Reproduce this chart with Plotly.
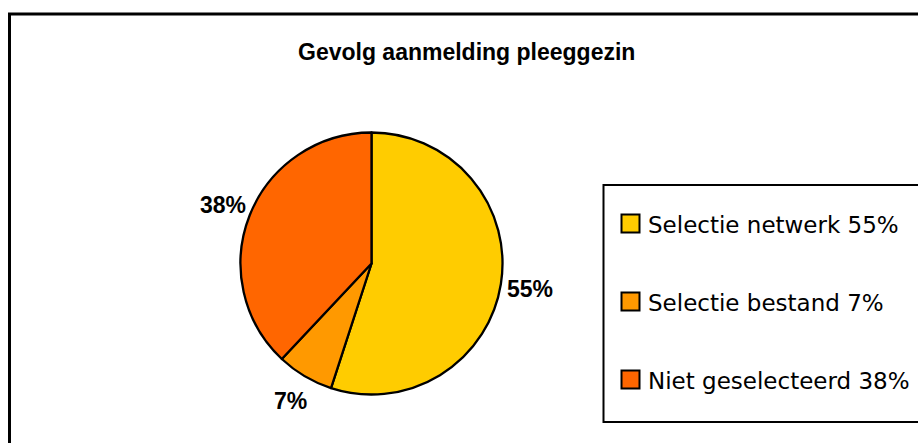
import math
import plotly.graph_objects as go

W, H = 918, 443

title = "Gevolg aanmelding pleeggezin"
labels = ["Selectie netwerk", "Selectie bestand", "Niet geselecteerd"]
values = [55, 7, 38]
colors = ["#FFCC00", "#FF9900", "#FF6600"]


def px_x(x):
    return x / W


def px_y(y):
    return (H - y) / H


cx, cy, r = 371.5, 263.5, 131.0

fig = go.Figure(go.Pie(
    labels=labels,
    values=values,
    sort=False,
    direction="clockwise",
    rotation=0,
    marker=dict(colors=colors, line=dict(color="black", width=2.3)),
    textinfo="none",
    showlegend=False,
    hoverinfo="label+percent",
    domain=dict(x=[px_x(cx - r), px_x(cx + r)], y=[px_y(cy + r), px_y(cy - r)]),
    automargin=False,
))

shapes = [
    # outer chart frame
    dict(type="rect", xref="paper", yref="paper",
         x0=px_x(9.5), x1=px_x(930), y0=px_y(455), y1=px_y(14),
         line=dict(color="black", width=3), fillcolor="rgba(0,0,0,0)"),
    # legend box
    dict(type="rect", xref="paper", yref="paper",
         x0=px_x(603.5), x1=px_x(930), y0=px_y(422), y1=px_y(185),
         line=dict(color="black", width=2), fillcolor="white"),
]

annotations = [
    dict(text=title, xref="paper", yref="paper", x=px_x(466), y=px_y(52),
         xanchor="center", yanchor="middle", showarrow=False,
         font=dict(family="Liberation Sans", size=23, color="black", weight="bold")),
]

# percentage labels outside the pie, at the middle angle of each slice
total = sum(values)
label_dist = 160.0
cum = 0.0
for val in values:
    mid = (cum + val / 2) / total * 2 * math.pi
    cum += val
    lx = cx + label_dist * math.sin(mid)
    ly = cy - label_dist * math.cos(mid)
    annotations.append(dict(text=f"{round(100 * val / total)}%",
                            xref="paper", yref="paper", x=px_x(lx), y=px_y(ly),
                            xanchor="center", yanchor="middle", showarrow=False,
                            font=dict(family="Liberation Sans", size=23, color="black",
                                      weight="bold")))

row_y = [223.5, 301.5, 379.5]
for lab, val, col, yy in zip(labels, values, colors, row_y):
    shapes.append(dict(type="rect", xref="paper", yref="paper",
                       x0=px_x(621.5), x1=px_x(639.5), y0=px_y(yy + 9), y1=px_y(yy - 9),
                       line=dict(color="black", width=2), fillcolor=col))
    annotations.append(dict(text=f"{lab} {round(100 * val / total)}%",
                            xref="paper", yref="paper", x=px_x(646), y=px_y(yy + 1.5),
                            xanchor="left", yanchor="middle", showarrow=False,
                            font=dict(family="DejaVu Sans", size=23, color="black")))

fig.update_layout(
    width=W, height=H,
    margin=dict(l=0, r=0, t=0, b=0),
    paper_bgcolor="white",
    plot_bgcolor="white",
    shapes=shapes,
    annotations=annotations,
)

fig.write_html("out.html",
               config={"displayModeBar": False},
               post_script="document.body.style.margin='0';document.body.style.overflow='hidden';")
